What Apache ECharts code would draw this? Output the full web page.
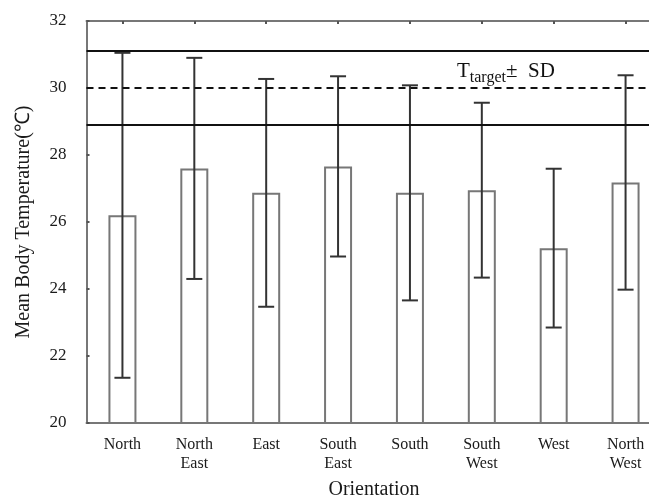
<!DOCTYPE html>
<html>
<head>
<meta charset="utf-8">
<script src="https://cdn.jsdelivr.net/npm/echarts@6/dist/echarts.min.js"></script>
<style>html,body{margin:0;padding:0;background:#fff}#c{width:649px;height:498px}</style>
</head>
<body>
<div id="c"></div>
<script>
const categories = ['North','North\nEast','East','South\nEast','South','South\nWest','West','North\nWest'];
const means = [26.2, 27.6, 26.87, 27.66, 26.87, 26.95, 25.22, 27.18];
const sds = [4.85, 3.3, 3.4, 2.69, 3.21, 2.61, 2.37, 3.2];
const targetTemp = 30;
const targetSD = 1.1;
const yTicks = [20, 22, 24, 26, 28, 30, 32];

const FONT = "'Liberation Serif','Times New Roman',serif";
const errData = means.map((m, i) => [i, m - sds[i], m + sds[i]]);

const chart = echarts.init(document.getElementById('c'), null, {renderer: 'canvas'});
chart.setOption({
  animation: false,
  backgroundColor: '#fff',
  grid: {left: 86.5, top: 21, width: 575, height: 402, containLabel: false, outerBoundsMode: 'none'},
  xAxis: [{
    type: 'category',
    data: categories,
    position: 'bottom',
    axisLine: {lineStyle: {color: '#777', width: 2}},
    axisTick: {show: true, inside: true, length: 3, alignWithLabel: true, lineStyle: {color: '#555', width: 2}},
    axisLabel: {fontFamily: FONT, fontSize: 16, color: '#1a1a1a', margin: 12, lineHeight: 19, interval: 0},
    name: 'Orientation',
    nameLocation: 'middle',
    nameGap: 57,
    nameTextStyle: {fontFamily: FONT, fontSize: 20, color: '#1a1a1a'}
  }, {
    type: 'category',
    data: categories,
    position: 'top',
    axisLine: {show: true, lineStyle: {color: '#777', width: 2}},
    axisTick: {show: true, inside: true, length: 3, alignWithLabel: true, lineStyle: {color: '#555', width: 2}},
    axisLabel: {show: false}
  }],
  yAxis: {
    type: 'value',
    min: yTicks[0],
    max: yTicks[yTicks.length - 1],
    interval: 2,
    axisLine: {show: true, lineStyle: {color: '#777', width: 2}},
    axisTick: {show: true, inside: true, length: 3, lineStyle: {color: '#555', width: 2}},
    splitLine: {show: false},
    axisLabel: {fontFamily: FONT, fontSize: 17, color: '#1a1a1a', margin: 20},
    name: 'Mean Body Temperature(\u2103)',
    nameLocation: 'middle',
    nameGap: 53,
    nameTextStyle: {fontFamily: FONT, fontSize: 20, color: '#1a1a1a'}
  },
  series: [{
    type: 'bar',
    data: means,
    barWidth: 28,
    itemStyle: {color: '#fff', borderColor: '#777', borderWidth: 2},
    z: 2,
    markLine: {
      silent: true,
      symbol: 'none',
      label: {show: false},
      data: [
        {yAxis: targetTemp + targetSD, lineStyle: {type: 'solid', color: '#111', width: 2}},
        {yAxis: targetTemp, lineStyle: {type: [7, 5], color: '#111', width: 2}},
        {yAxis: targetTemp - targetSD, lineStyle: {type: 'solid', color: '#111', width: 2}}
      ]
    }
  }, {
    type: 'custom',
    data: errData,
    z: 3,
    renderItem: function (params, api) {
      const x = api.value(0);
      const lo = api.coord([x, api.value(1)]);
      const hi = api.coord([x, api.value(2)]);
      const hw = 8;
      const style = {stroke: '#333', lineWidth: 2};
      return {
        type: 'group',
        children: [
          {type: 'line', shape: {x1: lo[0], y1: lo[1], x2: hi[0], y2: hi[1]}, style: style},
          {type: 'line', shape: {x1: lo[0] - hw, y1: lo[1], x2: lo[0] + hw, y2: lo[1]}, style: style},
          {type: 'line', shape: {x1: hi[0] - hw, y1: hi[1], x2: hi[0] + hw, y2: hi[1]}, style: style}
        ]
      };
    }
  }],
  graphic: [{
    type: 'text',
    left: 457,
    top: 61,
    z: 10,
    style: {
      text: '{t|T}{s|target}{t|\u00b1  SD}',
      rich: {
        t: {fontFamily: FONT, fontSize: 21, fill: '#111', lineHeight: 24, verticalAlign: 'bottom'},
        s: {fontFamily: FONT, fontSize: 16, fill: '#111', lineHeight: 24, verticalAlign: 'bottom', padding: [0, 0, -4, 0]}
      }
    }
  }]
});
</script>
</body>
</html>
